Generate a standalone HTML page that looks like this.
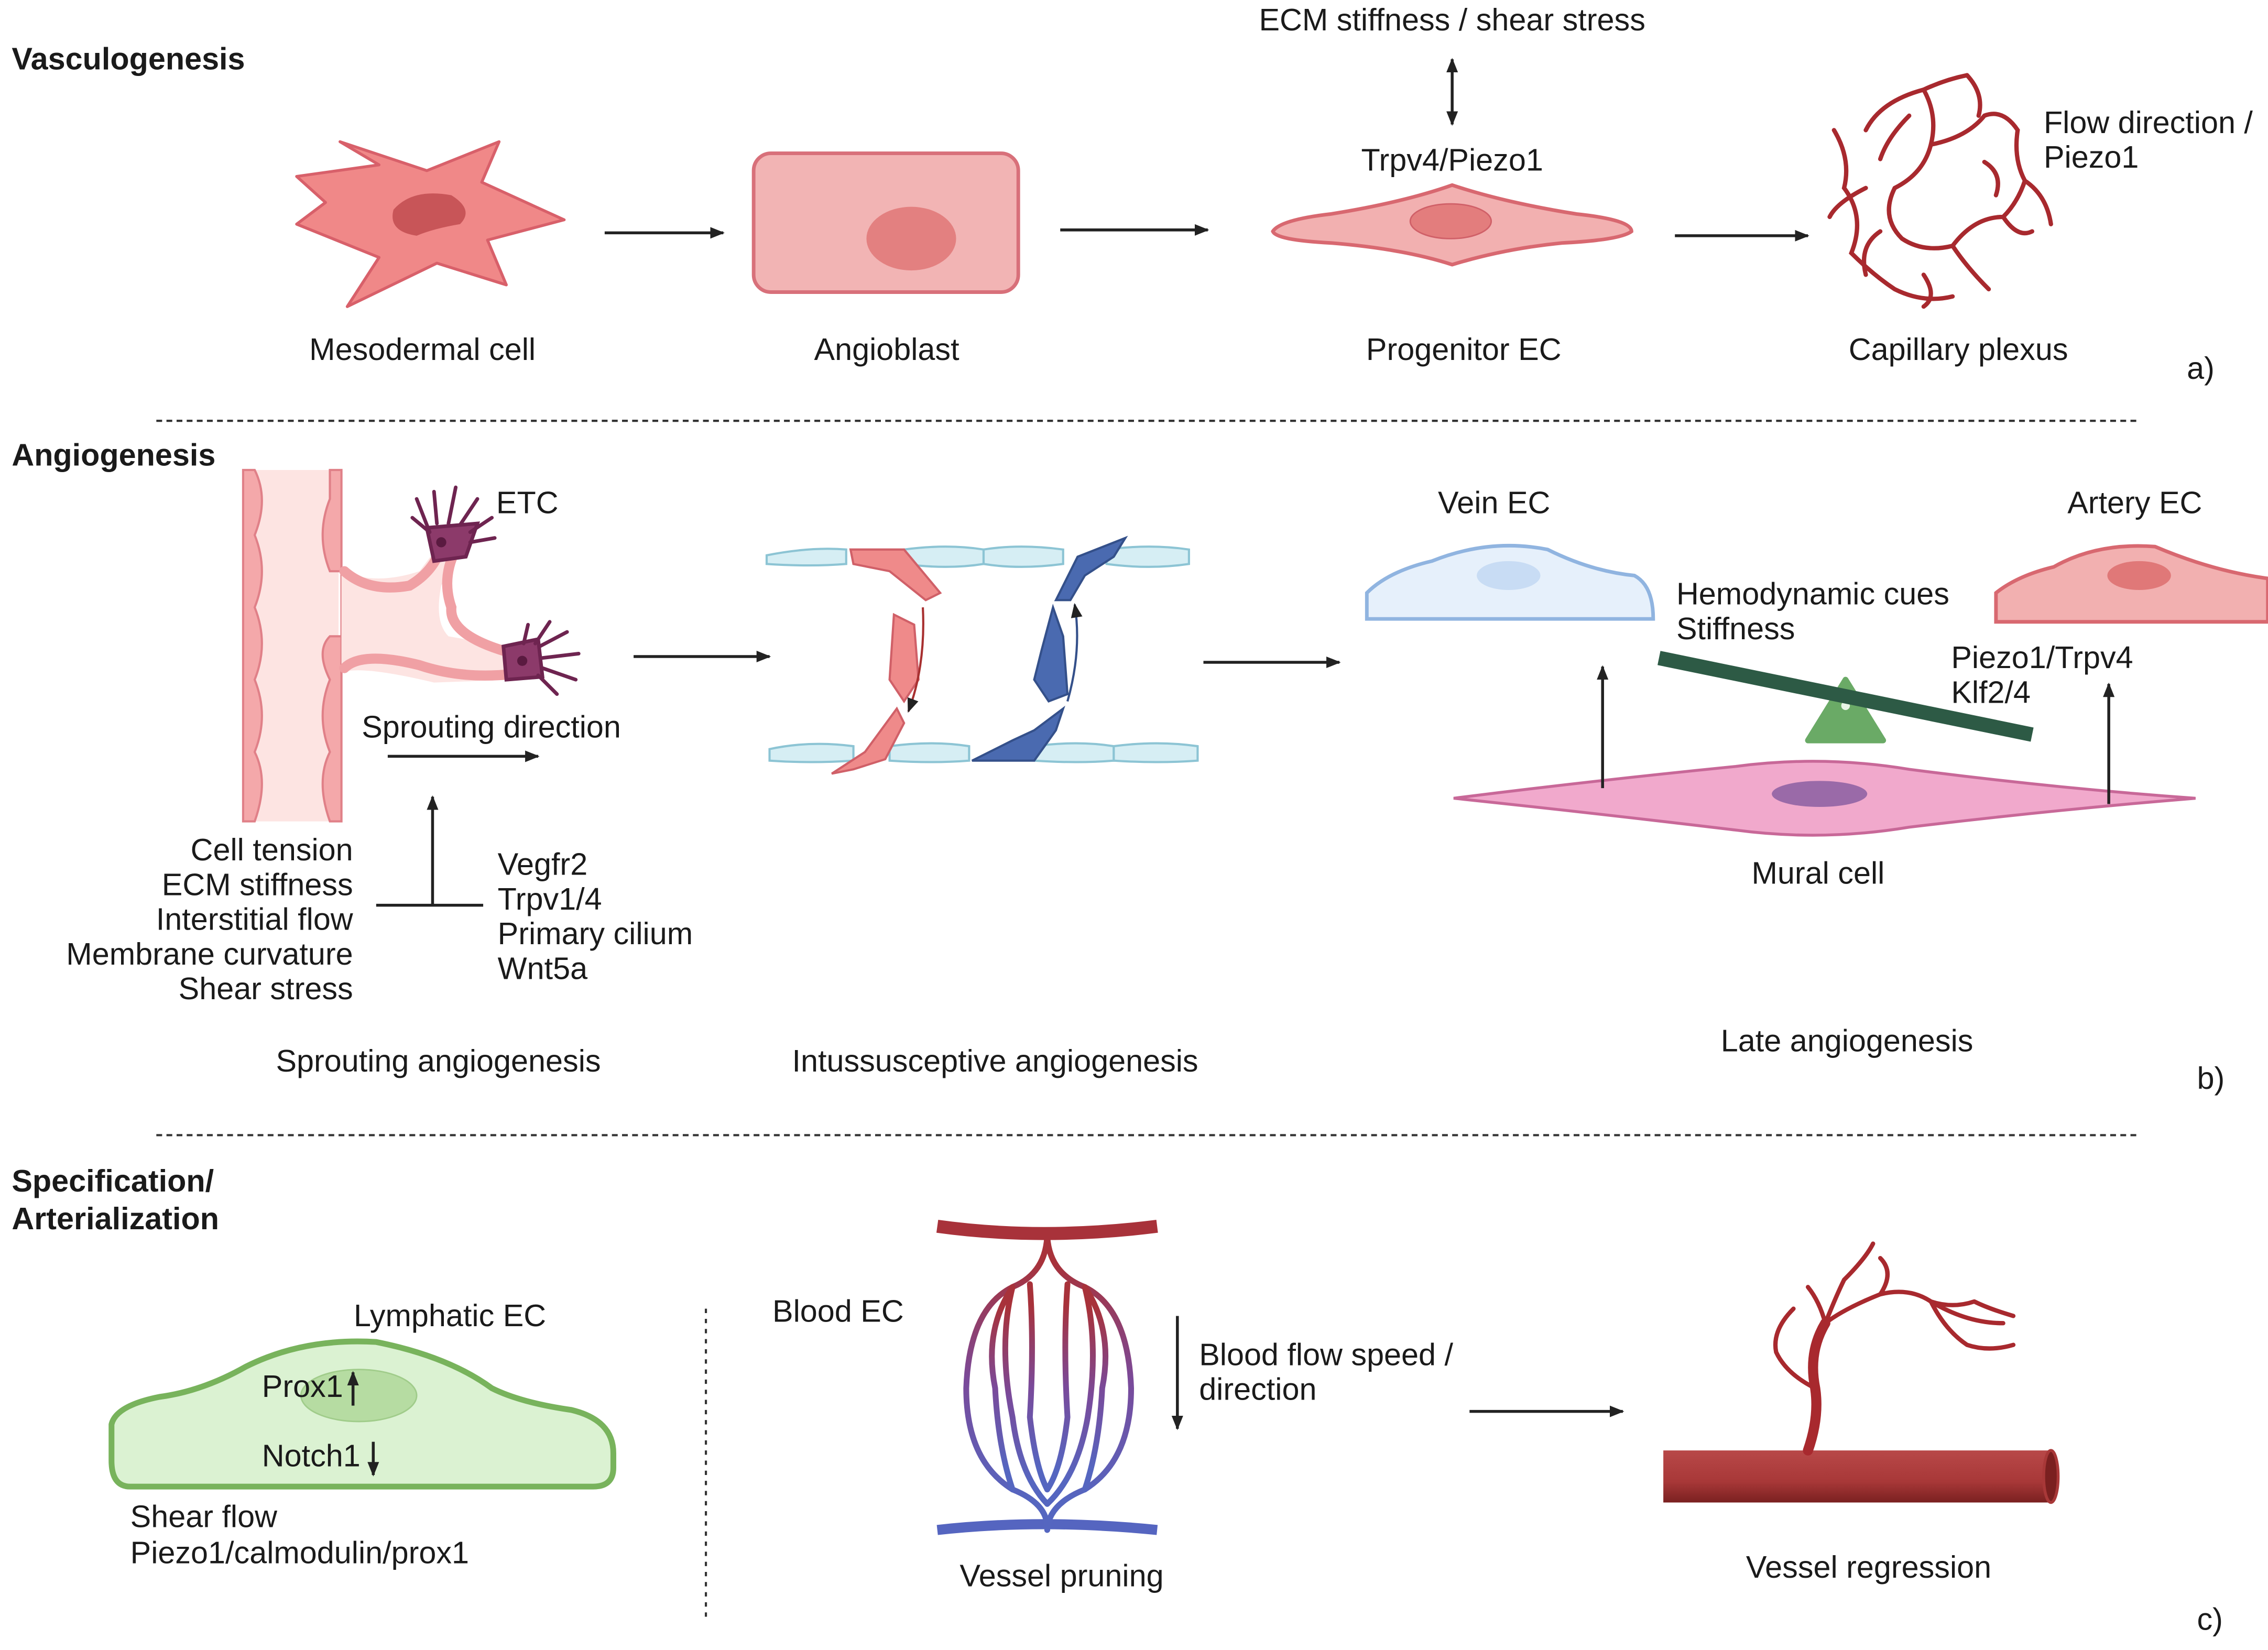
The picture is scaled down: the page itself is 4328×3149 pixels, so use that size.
<!DOCTYPE html>
<html><head><meta charset="utf-8"><style>
html,body{margin:0;padding:0;background:#fff}
svg{display:block}
text{font-family:"Liberation Sans",sans-serif;font-size:21.5px;fill:#1a1a1a}
.b{font-weight:bold;font-size:21.5px}
.c{text-anchor:middle}
.r{text-anchor:end}
</style></head><body>
<svg width="4328" height="3149" viewBox="0 0 1568 1141" xmlns="http://www.w3.org/2000/svg">
<defs>
<marker id="ah" markerWidth="10" markerHeight="10" refX="9" refY="5" orient="auto" markerUnits="userSpaceOnUse"><path d="M0,1 L10,5 L0,9 Z" fill="#222"/></marker>
<marker id="as" markerWidth="10" markerHeight="10" refX="1" refY="5" orient="auto" markerUnits="userSpaceOnUse"><path d="M10,1 L0,5 L10,9 Z" fill="#222"/></marker>
<linearGradient id="rb" x1="0" y1="0" x2="0" y2="1"><stop offset="0.1" stop-color="#a8323a"/><stop offset="0.5" stop-color="#7a4a9a"/><stop offset="0.9" stop-color="#5566c0"/></linearGradient>
<linearGradient id="tube" x1="0" y1="0" x2="0" y2="1"><stop offset="0" stop-color="#b84848"/><stop offset="0.6" stop-color="#a83838"/><stop offset="1" stop-color="#7a2020"/></linearGradient>
</defs>

<!-- Section a -->
<text x="8" y="48" class="b">Vasculogenesis</text>
<text x="1004" y="21" class="c">ECM stiffness / shear stress</text>
<line x1="1004" y1="41" x2="1004" y2="86" stroke="#222" stroke-width="2" marker-end="url(#ah)" marker-start="url(#as)"/>
<text x="1004" y="118" class="c">Trpv4/Piezo1</text>

<path d="M205,122 L262,114 L235,98 L295,118 L345,98 L333,126 L390,152 L337,166 L350,197 L302,182 L240,212 L262,178 L205,155 L225,140 Z" fill="#f08888" stroke="#d8606a" stroke-width="2" stroke-linejoin="round"/>
<path d="M272,145 Q285,130 312,135 Q328,145 318,155 Q300,158 288,163 Q268,160 272,145 Z" fill="#c85558"/>
<line x1="418" y1="161" x2="500" y2="161" stroke="#222" stroke-width="2" marker-end="url(#ah)"/>

<rect x="521" y="106" width="183" height="96" rx="12" fill="#f2b4b4" stroke="#d8707a" stroke-width="2.5"/>
<ellipse cx="630" cy="165" rx="31" ry="22" fill="#e38080"/>
<line x1="733" y1="159" x2="835" y2="159" stroke="#222" stroke-width="2" marker-end="url(#ah)"/>

<path d="M880,160 Q885,152 920,148 Q970,140 1004,128 Q1040,140 1090,148 Q1128,152 1128,160 Q1120,166 1080,168 Q1040,172 1004,183 Q970,172 920,168 Q882,166 880,160 Z" fill="#f2b0b0" stroke="#d86870" stroke-width="2.5"/>
<ellipse cx="1003" cy="153" rx="28" ry="12" fill="#e37d7d" stroke="#d06068"/>
<line x1="1158" y1="163" x2="1250" y2="163" stroke="#222" stroke-width="2" marker-end="url(#ah)"/>

<g fill="none" stroke="#a8292e" stroke-width="3" stroke-linecap="round">
<path d="M1290,90 Q1300,70 1330,62 Q1345,55 1360,52"/>
<path d="M1330,62 Q1340,80 1335,100 Q1330,120 1310,130"/>
<path d="M1268,90 Q1280,110 1275,130 Q1290,150 1280,175 Q1295,190 1310,200 Q1330,210 1350,205"/>
<path d="M1310,130 Q1300,150 1315,165 Q1330,175 1350,170 Q1360,185 1375,200"/>
<path d="M1335,100 Q1360,95 1372,80 Q1385,75 1395,90 Q1392,110 1400,125 Q1415,135 1418,155"/>
<path d="M1360,52 Q1372,65 1368,80"/>
<path d="M1350,170 Q1365,150 1385,150 Q1395,140 1400,125"/>
<path d="M1290,130 Q1270,140 1265,150"/><path d="M1300,160 Q1285,170 1290,190"/>
<path d="M1372,112 Q1385,120 1380,135"/><path d="M1330,190 Q1340,205 1330,212"/>
<path d="M1320,80 Q1305,95 1300,110"/><path d="M1385,150 Q1395,165 1405,160"/>
</g>
<text x="1413" y="92">Flow direction /</text>
<text x="1413" y="116">Piezo1</text>

<text x="292" y="249" class="c">Mesodermal cell</text>
<text x="613" y="249" class="c">Angioblast</text>
<text x="1012" y="249" class="c">Progenitor EC</text>
<text x="1354" y="249" class="c">Capillary plexus</text>
<text x="1512" y="262">a)</text>
<line x1="108" y1="291" x2="1478" y2="291" stroke="#333" stroke-width="1.5" stroke-dasharray="4,3"/>

<!-- Section b -->
<text x="8" y="322" class="b">Angiogenesis</text>
<rect x="170" y="325" width="64" height="243" fill="#fde4e2"/>
<g fill="#f4a8aa" stroke="#e08088" stroke-width="1.5">
<path d="M168,325 L168,568 L176,568 Q186,540 176,520 Q186,495 176,470 Q186,445 176,420 Q186,395 176,370 Q186,345 176,325 Z"/>
<path d="M236,325 L236,568 L228,568 Q218,540 228,520 Q218,495 228,470 Q218,450 228,440 L236,440 L236,395 L228,395 Q218,370 228,345 L228,325 Z"/>
</g>
<path d="M236,395 Q260,405 290,395 L305,375 L318,378 L305,405 Q300,430 310,440 L355,448 L355,470 L300,472 Q250,460 236,465 Z" fill="#fde4e2"/>
<g fill="none" stroke="#f0a0a4" stroke-width="7" stroke-linecap="round">
<path d="M238,395 Q255,410 283,405 Q300,395 305,378"/>
<path d="M315,380 Q305,400 312,420 Q310,440 355,452"/>
<path d="M238,462 Q250,450 290,460 Q320,470 355,466"/>
</g>
<g fill="#8c3a6a" stroke="#6e2450" stroke-width="2.5" stroke-linecap="round">
<path d="M295,365 L330,362 L322,385 L300,388 Z"/>
<path d="M297,368 L288,345 M302,362 L300,340 M310,362 L315,337 M318,363 L330,345 M325,368 L340,358 M325,375 L342,372 M297,368 L285,358" fill="none"/>
<path d="M348,447 L372,442 L375,468 L350,470 Z"/>
<path d="M370,445 L380,430 M373,447 L392,437 M375,455 L400,452 M375,462 L398,470 M372,467 L385,480 M362,445 L365,432" fill="none"/>
</g>
<circle cx="305" cy="375" r="3.5" fill="#5a1a40"/><circle cx="361" cy="457" r="3.5" fill="#5a1a40"/>
<text x="343" y="355">ETC</text>
<text x="250" y="510">Sprouting direction</text>
<line x1="268" y1="523" x2="372" y2="523" stroke="#222" stroke-width="2" marker-end="url(#ah)"/>
<line x1="299" y1="626" x2="299" y2="551" stroke="#222" stroke-width="2" marker-end="url(#ah)"/>
<line x1="260" y1="626" x2="334" y2="626" stroke="#222" stroke-width="2"/>
<text x="244" y="595" class="r">Cell tension</text>
<text x="244" y="619" class="r">ECM stiffness</text>
<text x="244" y="643" class="r">Interstitial flow</text>
<text x="244" y="667" class="r">Membrane curvature</text>
<text x="244" y="691" class="r">Shear stress</text>
<text x="344" y="605">Vegfr2</text>
<text x="344" y="629">Trpv1/4</text>
<text x="344" y="653">Primary cilium</text>
<text x="344" y="677">Wnt5a</text>
<text x="303" y="741" class="c">Sprouting angiogenesis</text>
<line x1="438" y1="454" x2="532" y2="454" stroke="#222" stroke-width="2" marker-end="url(#ah)"/>

<!-- intussusceptive -->
<g fill="#d6eef4" stroke="#8cc4d4" stroke-width="1.5">
<path d="M530,384 Q560,378 585,380 L585,390 Q560,392 530,390 Z"/>
<path d="M625,380 Q655,376 680,380 L680,390 Q655,394 625,390 Z"/>
<path d="M680,380 Q705,376 735,380 L735,390 Q705,394 680,390 Z"/>
<path d="M765,380 Q795,376 822,380 L822,390 Q795,394 765,390 Z"/>
<path d="M532,518 Q560,512 590,516 L590,526 Q560,528 532,526 Z"/>
<path d="M615,516 Q645,512 670,516 L670,526 Q645,528 615,526 Z"/>
<path d="M715,516 Q745,512 770,516 L770,526 Q745,528 715,526 Z"/>
<path d="M770,516 Q800,512 828,516 L828,526 Q800,528 770,526 Z"/>
</g>
<g fill="#ef8a8a" stroke="#d06068" stroke-width="1.5">
<path d="M588,380 L625,380 L650,410 L640,415 L615,395 L590,390 Z"/>
<path d="M618,425 L632,432 L635,470 L625,485 L615,470 Z"/>
<path d="M575,535 L598,520 L620,490 L625,500 L612,525 L590,532 Z"/>
</g>
<g fill="#4a6ab0" stroke="#34508a" stroke-width="1.5">
<path d="M730,415 L745,385 L778,372 L770,385 L750,398 L740,415 Z"/>
<path d="M720,450 L728,420 L735,440 L738,480 L725,485 L715,470 Z"/>
<path d="M672,526 L700,512 L715,505 L735,490 L730,505 L715,526 Z"/>
</g>
<path d="M638,420 Q640,460 628,492" fill="none" stroke="#a83030" stroke-width="1.5" marker-end="url(#ah)"/>
<path d="M738,485 Q748,450 743,418" fill="none" stroke="#34508a" stroke-width="1.5" marker-end="url(#ah)"/>
<text x="688" y="741" class="c">Intussusceptive angiogenesis</text>
<line x1="832" y1="458" x2="926" y2="458" stroke="#222" stroke-width="2" marker-end="url(#ah)"/>

<!-- late angiogenesis -->
<path d="M945,428 L945,410 Q960,395 990,388 Q1030,372 1070,380 Q1100,395 1130,398 Q1143,405 1143,428 Z" fill="#e6f0fb" stroke="#90b4e0" stroke-width="2.5"/>
<ellipse cx="1043" cy="398" rx="22" ry="10" fill="#c8dcf4"/>
<text x="1033" y="355" class="c">Vein EC</text>
<path d="M1380,430 L1380,410 Q1395,398 1420,392 Q1450,375 1490,378 Q1530,395 1568,400 L1568,430 Z" fill="#f2b0b0" stroke="#d86870" stroke-width="2.5"/>
<ellipse cx="1479" cy="398" rx="22" ry="10" fill="#e07878"/>
<text x="1476" y="355" class="c">Artery EC</text>
<text x="1159" y="418">Hemodynamic cues</text>
<text x="1159" y="442">Stiffness</text>
<text x="1349" y="462">Piezo1/Trpv4</text>
<text x="1349" y="486">Klf2/4</text>
<path d="M1005,552 Q1100,540 1200,530 Q1260,522 1320,532 Q1420,545 1518,552 Q1420,560 1320,572 Q1260,582 1200,574 Q1100,562 1005,552 Z" fill="#f1a9cc" stroke="#c86898" stroke-width="2"/>
<ellipse cx="1258" cy="549" rx="33" ry="9" fill="#9a6aa8"/>
<path d="M1276,470 L1302,512 L1250,512 Z" fill="#6aaa66" stroke="#6aaa66" stroke-width="4" stroke-linejoin="round"/>
<circle cx="1276" cy="488" r="3" fill="#e8f4e6"/>
<line x1="1147" y1="455" x2="1405" y2="508" stroke="#2d5a45" stroke-width="10"/>
<line x1="1108" y1="545" x2="1108" y2="461" stroke="#222" stroke-width="2" marker-end="url(#ah)"/>
<line x1="1458" y1="556" x2="1458" y2="473" stroke="#222" stroke-width="2" marker-end="url(#ah)"/>
<text x="1257" y="611" class="c">Mural cell</text>
<text x="1277" y="727" class="c">Late angiogenesis</text>
<text x="1519" y="753">b)</text>
<line x1="108" y1="785" x2="1478" y2="785" stroke="#333" stroke-width="1.5" stroke-dasharray="4,3"/>

<!-- Section c -->
<text x="8" y="824" class="b">Specification/</text>
<text x="8" y="850" class="b">Arterialization</text>
<path d="M90,1028 Q77,1028 77,1010 L77,985 Q80,972 110,966 Q140,962 170,945 Q210,925 260,928 Q310,938 340,960 Q360,970 395,975 Q424,982 424,1005 L424,1015 Q424,1028 410,1028 Z" fill="#dbf2d2" stroke="#78b35c" stroke-width="4"/>
<ellipse cx="248" cy="965" rx="40" ry="18" fill="#b6dca2" stroke="#a0cc8a"/>
<text x="311" y="917" class="c">Lymphatic EC</text>
<text x="181" y="966">Prox1</text>
<line x1="244" y1="972" x2="244" y2="949" stroke="#222" stroke-width="2" marker-end="url(#ah)"/>
<text x="181" y="1014">Notch1</text>
<line x1="258" y1="997" x2="258" y2="1020" stroke="#222" stroke-width="2" marker-end="url(#ah)"/>
<text x="90" y="1056">Shear flow</text>
<text x="90" y="1081">Piezo1/calmodulin/prox1</text>
<line x1="488" y1="905" x2="488" y2="1122" stroke="#333" stroke-width="1.5" stroke-dasharray="3,4"/>
<text x="534" y="914">Blood EC</text>

<path d="M648,848 Q720,858 800,848" fill="none" stroke="#a8323a" stroke-width="9"/>
<path d="M648,1058 Q720,1050 800,1058" fill="none" stroke="#5565c0" stroke-width="7"/>
<g fill="none" stroke="url(#rb)" stroke-width="4" stroke-linecap="round">
<path d="M724,852 Q724,880 700,890 Q670,905 668,960 Q668,1010 700,1030 Q725,1040 724,1058"/>
<path d="M724,852 Q724,880 750,890 Q780,905 782,960 Q782,1010 750,1030 Q725,1040 724,1058"/>
<path d="M700,890 Q690,930 700,980 Q705,1020 724,1040"/>
<path d="M750,890 Q760,930 752,980 Q745,1020 724,1040"/>
<path d="M712,888 Q715,930 712,980 Q716,1015 724,1030"/>
<path d="M738,888 Q735,930 738,980 Q734,1015 724,1030"/>
<path d="M700,890 Q680,920 688,960 Q690,1000 700,1030"/>
<path d="M750,890 Q770,920 762,960 Q760,1000 750,1030"/>
</g>
<line x1="814" y1="910" x2="814" y2="988" stroke="#222" stroke-width="2" marker-end="url(#ah)"/>
<text x="829" y="944">Blood flow speed /</text>
<text x="829" y="968">direction</text>
<text x="734" y="1097" class="c">Vessel pruning</text>
<line x1="1016" y1="976" x2="1122" y2="976" stroke="#222" stroke-width="2" marker-end="url(#ah)"/>

<rect x="1150" y="1003" width="268" height="36" fill="url(#tube)"/>
<ellipse cx="1418" cy="1021" rx="5" ry="18" fill="#7a2020" stroke="#a83838" stroke-width="2"/>
<g fill="none" stroke="#a8292e" stroke-linecap="round">
<path d="M1250,1003 Q1258,980 1255,960 Q1250,935 1262,915" stroke-width="7"/>
<path d="M1262,915 Q1258,900 1250,890 M1262,915 Q1275,905 1300,895 Q1320,890 1335,900 Q1350,905 1365,900 M1300,895 Q1310,880 1300,870 M1335,900 Q1360,915 1385,915 M1262,915 Q1270,895 1275,885 Q1290,870 1295,860 M1255,960 Q1235,950 1228,935 M1228,935 Q1225,920 1240,905 M1335,900 Q1345,920 1360,930 Q1375,935 1392,930 M1365,900 Q1375,905 1392,910" stroke-width="3"/>
</g>
<text x="1292" y="1091" class="c">Vessel regression</text>
<text x="1519" y="1127">c)</text>
</svg>
</body></html>
